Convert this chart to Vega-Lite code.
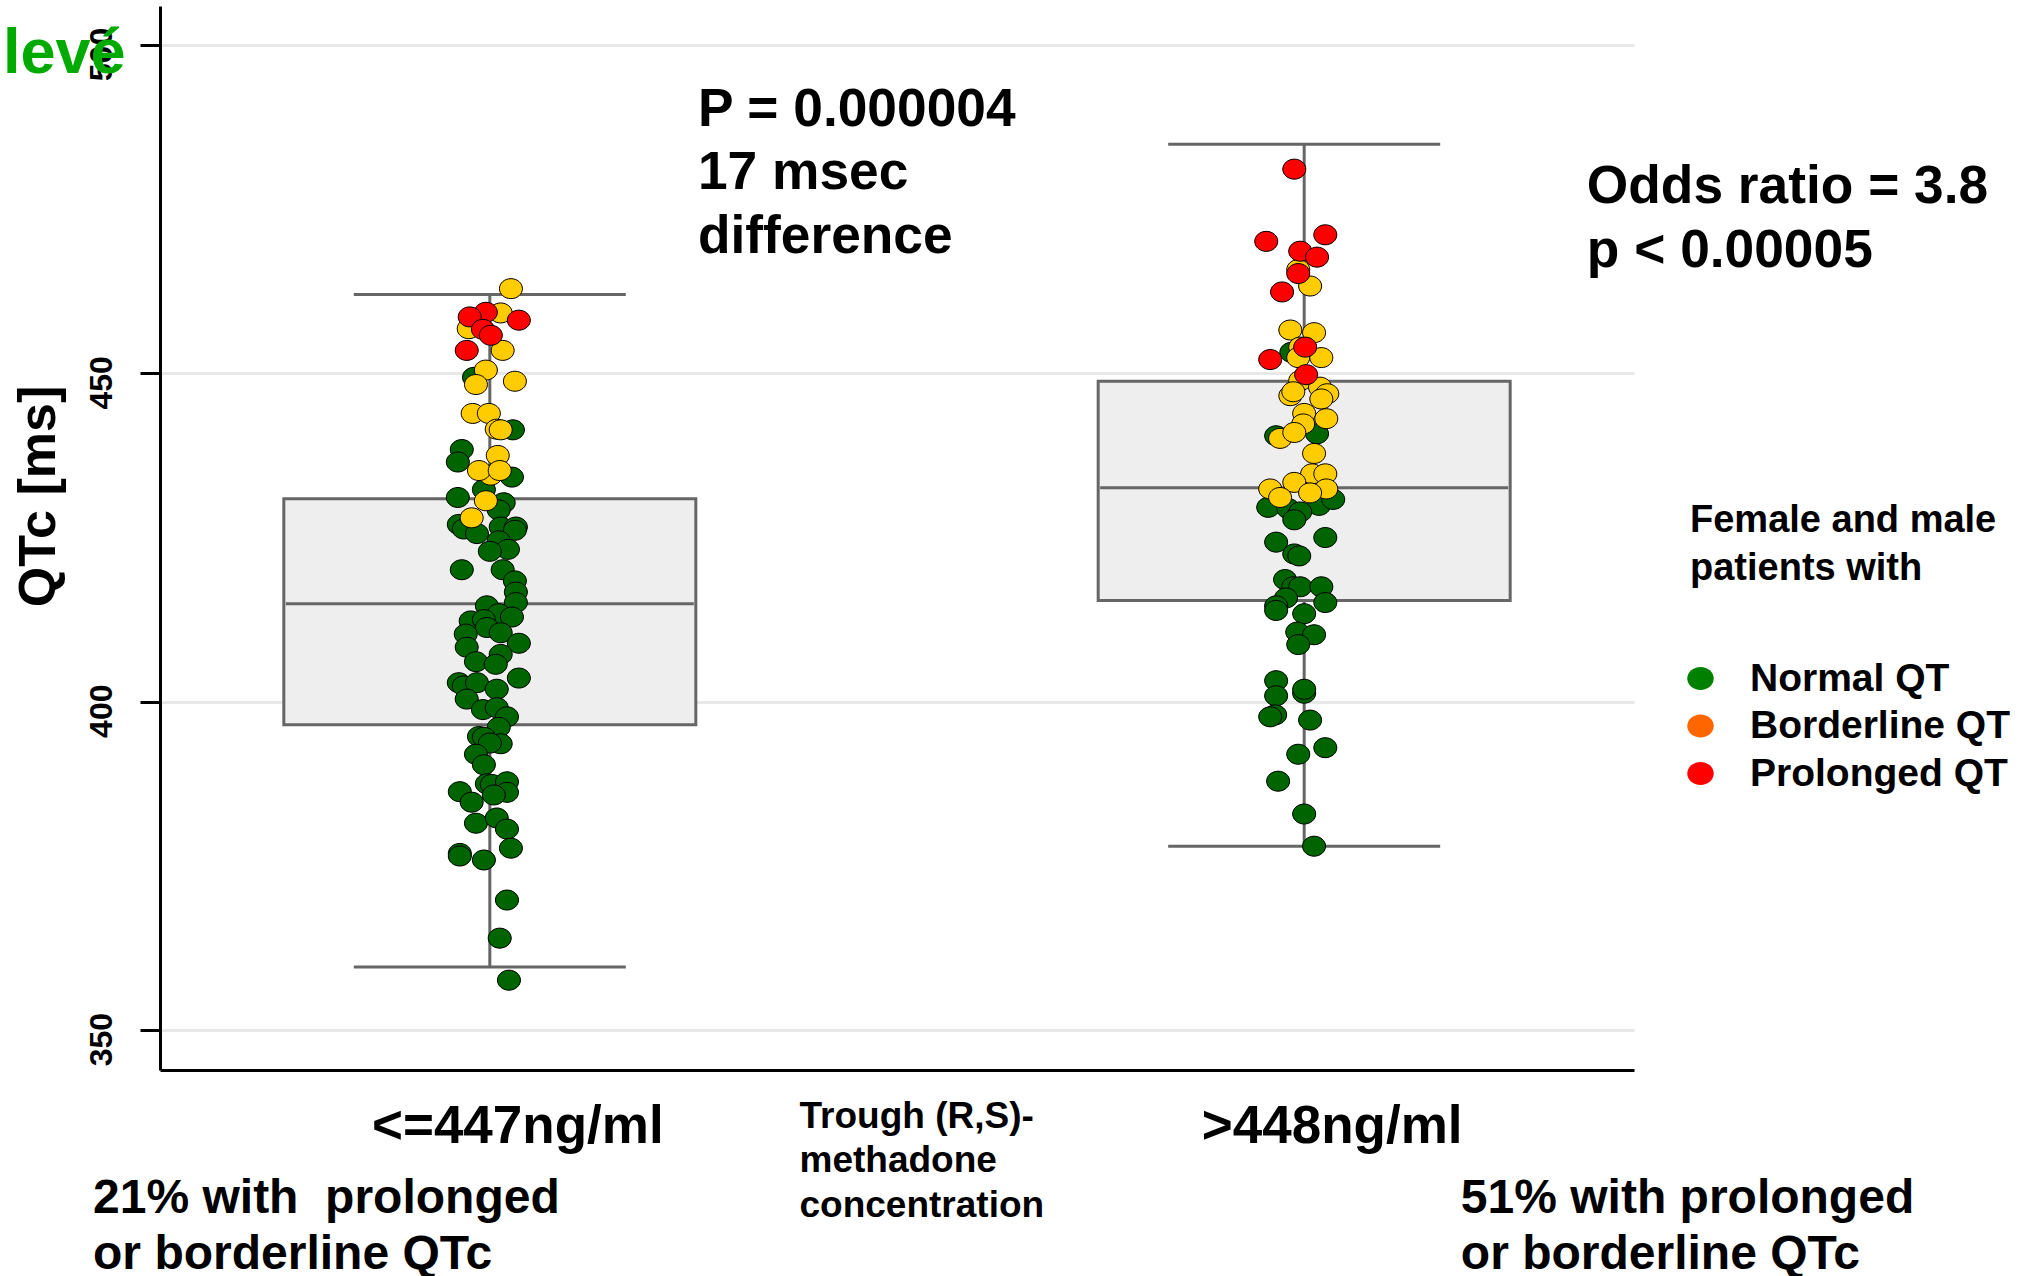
{
 "$schema": "https://vega.github.io/schema/vega-lite/v6.json",
 "width": 1474,
 "height": 1064,
 "autosize": "none",
 "padding": {"left": 160, "top": 6, "right": 386, "bottom": 206},
 "background": "white",
 "config": {"view": {"stroke": null}, "font": "Liberation Sans"},
 "datasets": {
  "box": [
   {"group": "<=447ng/ml", "lo": 359.6, "q1": 396.5, "med": 414.9, "q3": 430.9, "hi": 462.0},
   {"group": ">448ng/ml", "lo": 378.0, "q1": 415.4, "med": 432.6, "q3": 448.8, "hi": 484.9}
  ],
  "pts": [
   {"group": "<=447ng/ml", "qtc": 449.4, "jitter": -0.48, "status": "Normal QT"},
   {"group": "<=447ng/ml", "qtc": 441.4, "jitter": 0.70, "status": "Normal QT"},
   {"group": "<=447ng/ml", "qtc": 438.4, "jitter": -0.85, "status": "Normal QT"},
   {"group": "<=447ng/ml", "qtc": 436.5, "jitter": -0.97, "status": "Normal QT"},
   {"group": "<=447ng/ml", "qtc": 434.2, "jitter": 0.67, "status": "Normal QT"},
   {"group": "<=447ng/ml", "qtc": 432.3, "jitter": -0.18, "status": "Normal QT"},
   {"group": "<=447ng/ml", "qtc": 431.1, "jitter": -0.97, "status": "Normal QT"},
   {"group": "<=447ng/ml", "qtc": 430.3, "jitter": 0.42, "status": "Normal QT"},
   {"group": "<=447ng/ml", "qtc": 429.2, "jitter": 0.27, "status": "Normal QT"},
   {"group": "<=447ng/ml", "qtc": 427.0, "jitter": -0.94, "status": "Normal QT"},
   {"group": "<=447ng/ml", "qtc": 426.3, "jitter": -0.79, "status": "Normal QT"},
   {"group": "<=447ng/ml", "qtc": 425.6, "jitter": -0.39, "status": "Normal QT"},
   {"group": "<=447ng/ml", "qtc": 426.6, "jitter": 0.33, "status": "Normal QT"},
   {"group": "<=447ng/ml", "qtc": 426.6, "jitter": 0.79, "status": "Normal QT"},
   {"group": "<=447ng/ml", "qtc": 426.1, "jitter": 0.76, "status": "Normal QT"},
   {"group": "<=447ng/ml", "qtc": 424.5, "jitter": 0.27, "status": "Normal QT"},
   {"group": "<=447ng/ml", "qtc": 423.2, "jitter": 0.55, "status": "Normal QT"},
   {"group": "<=447ng/ml", "qtc": 422.9, "jitter": 0.0, "status": "Normal QT"},
   {"group": "<=447ng/ml", "qtc": 420.1, "jitter": -0.85, "status": "Normal QT"},
   {"group": "<=447ng/ml", "qtc": 420.1, "jitter": 0.39, "status": "Normal QT"},
   {"group": "<=447ng/ml", "qtc": 418.4, "jitter": 0.76, "status": "Normal QT"},
   {"group": "<=447ng/ml", "qtc": 416.7, "jitter": 0.79, "status": "Normal QT"},
   {"group": "<=447ng/ml", "qtc": 415.1, "jitter": 0.79, "status": "Normal QT"},
   {"group": "<=447ng/ml", "qtc": 414.6, "jitter": -0.09, "status": "Normal QT"},
   {"group": "<=447ng/ml", "qtc": 413.4, "jitter": 0.27, "status": "Normal QT"},
   {"group": "<=447ng/ml", "qtc": 412.9, "jitter": 0.67, "status": "Normal QT"},
   {"group": "<=447ng/ml", "qtc": 412.3, "jitter": -0.58, "status": "Normal QT"},
   {"group": "<=447ng/ml", "qtc": 412.5, "jitter": -0.18, "status": "Normal QT"},
   {"group": "<=447ng/ml", "qtc": 411.3, "jitter": -0.09, "status": "Normal QT"},
   {"group": "<=447ng/ml", "qtc": 410.3, "jitter": -0.73, "status": "Normal QT"},
   {"group": "<=447ng/ml", "qtc": 410.5, "jitter": 0.33, "status": "Normal QT"},
   {"group": "<=447ng/ml", "qtc": 408.9, "jitter": 0.88, "status": "Normal QT"},
   {"group": "<=447ng/ml", "qtc": 408.3, "jitter": -0.70, "status": "Normal QT"},
   {"group": "<=447ng/ml", "qtc": 407.2, "jitter": 0.33, "status": "Normal QT"},
   {"group": "<=447ng/ml", "qtc": 406.1, "jitter": -0.42, "status": "Normal QT"},
   {"group": "<=447ng/ml", "qtc": 405.7, "jitter": 0.18, "status": "Normal QT"},
   {"group": "<=447ng/ml", "qtc": 403.6, "jitter": 0.88, "status": "Normal QT"},
   {"group": "<=447ng/ml", "qtc": 402.9, "jitter": -0.94, "status": "Normal QT"},
   {"group": "<=447ng/ml", "qtc": 402.4, "jitter": -0.79, "status": "Normal QT"},
   {"group": "<=447ng/ml", "qtc": 402.9, "jitter": -0.39, "status": "Normal QT"},
   {"group": "<=447ng/ml", "qtc": 401.9, "jitter": 0.21, "status": "Normal QT"},
   {"group": "<=447ng/ml", "qtc": 400.4, "jitter": -0.70, "status": "Normal QT"},
   {"group": "<=447ng/ml", "qtc": 398.8, "jitter": -0.21, "status": "Normal QT"},
   {"group": "<=447ng/ml", "qtc": 399.1, "jitter": 0.21, "status": "Normal QT"},
   {"group": "<=447ng/ml", "qtc": 397.7, "jitter": 0.52, "status": "Normal QT"},
   {"group": "<=447ng/ml", "qtc": 396.1, "jitter": 0.27, "status": "Normal QT"},
   {"group": "<=447ng/ml", "qtc": 394.7, "jitter": -0.33, "status": "Normal QT"},
   {"group": "<=447ng/ml", "qtc": 394.6, "jitter": -0.18, "status": "Normal QT"},
   {"group": "<=447ng/ml", "qtc": 393.6, "jitter": 0.33, "status": "Normal QT"},
   {"group": "<=447ng/ml", "qtc": 393.7, "jitter": 0.0, "status": "Normal QT"},
   {"group": "<=447ng/ml", "qtc": 392.0, "jitter": -0.42, "status": "Normal QT"},
   {"group": "<=447ng/ml", "qtc": 390.4, "jitter": -0.18, "status": "Normal QT"},
   {"group": "<=447ng/ml", "qtc": 387.5, "jitter": -0.09, "status": "Normal QT"},
   {"group": "<=447ng/ml", "qtc": 387.4, "jitter": 0.06, "status": "Normal QT"},
   {"group": "<=447ng/ml", "qtc": 387.8, "jitter": 0.52, "status": "Normal QT"},
   {"group": "<=447ng/ml", "qtc": 386.2, "jitter": 0.52, "status": "Normal QT"},
   {"group": "<=447ng/ml", "qtc": 386.3, "jitter": -0.91, "status": "Normal QT"},
   {"group": "<=447ng/ml", "qtc": 384.7, "jitter": -0.55, "status": "Normal QT"},
   {"group": "<=447ng/ml", "qtc": 385.8, "jitter": 0.12, "status": "Normal QT"},
   {"group": "<=447ng/ml", "qtc": 381.5, "jitter": -0.42, "status": "Normal QT"},
   {"group": "<=447ng/ml", "qtc": 382.3, "jitter": 0.21, "status": "Normal QT"},
   {"group": "<=447ng/ml", "qtc": 380.6, "jitter": 0.52, "status": "Normal QT"},
   {"group": "<=447ng/ml", "qtc": 377.7, "jitter": 0.64, "status": "Normal QT"},
   {"group": "<=447ng/ml", "qtc": 376.9, "jitter": -0.91, "status": "Normal QT"},
   {"group": "<=447ng/ml", "qtc": 376.5, "jitter": -0.91, "status": "Normal QT"},
   {"group": "<=447ng/ml", "qtc": 375.9, "jitter": -0.18, "status": "Normal QT"},
   {"group": "<=447ng/ml", "qtc": 369.8, "jitter": 0.52, "status": "Normal QT"},
   {"group": "<=447ng/ml", "qtc": 364.0, "jitter": 0.30, "status": "Normal QT"},
   {"group": "<=447ng/ml", "qtc": 357.6, "jitter": 0.58, "status": "Normal QT"},
   {"group": ">448ng/ml", "qtc": 453.2, "jitter": -0.39, "status": "Normal QT"},
   {"group": ">448ng/ml", "qtc": 440.8, "jitter": 0.39, "status": "Normal QT"},
   {"group": ">448ng/ml", "qtc": 440.5, "jitter": -0.85, "status": "Normal QT"},
   {"group": ">448ng/ml", "qtc": 429.6, "jitter": -1.09, "status": "Normal QT"},
   {"group": ">448ng/ml", "qtc": 429.4, "jitter": -0.48, "status": "Normal QT"},
   {"group": ">448ng/ml", "qtc": 429.9, "jitter": 0.45, "status": "Normal QT"},
   {"group": ">448ng/ml", "qtc": 430.8, "jitter": 0.88, "status": "Normal QT"},
   {"group": ">448ng/ml", "qtc": 428.9, "jitter": -0.12, "status": "Normal QT"},
   {"group": ">448ng/ml", "qtc": 427.7, "jitter": -0.30, "status": "Normal QT"},
   {"group": ">448ng/ml", "qtc": 425.0, "jitter": 0.64, "status": "Normal QT"},
   {"group": ">448ng/ml", "qtc": 424.3, "jitter": -0.85, "status": "Normal QT"},
   {"group": ">448ng/ml", "qtc": 422.5, "jitter": -0.30, "status": "Normal QT"},
   {"group": ">448ng/ml", "qtc": 422.2, "jitter": -0.15, "status": "Normal QT"},
   {"group": ">448ng/ml", "qtc": 418.6, "jitter": -0.58, "status": "Normal QT"},
   {"group": ">448ng/ml", "qtc": 417.5, "jitter": -0.33, "status": "Normal QT"},
   {"group": ">448ng/ml", "qtc": 417.5, "jitter": -0.12, "status": "Normal QT"},
   {"group": ">448ng/ml", "qtc": 417.5, "jitter": 0.52, "status": "Normal QT"},
   {"group": ">448ng/ml", "qtc": 415.8, "jitter": -0.55, "status": "Normal QT"},
   {"group": ">448ng/ml", "qtc": 415.1, "jitter": 0.64, "status": "Normal QT"},
   {"group": ">448ng/ml", "qtc": 414.6, "jitter": -0.85, "status": "Normal QT"},
   {"group": ">448ng/ml", "qtc": 413.9, "jitter": -0.85, "status": "Normal QT"},
   {"group": ">448ng/ml", "qtc": 413.4, "jitter": 0.0, "status": "Normal QT"},
   {"group": ">448ng/ml", "qtc": 410.6, "jitter": -0.21, "status": "Normal QT"},
   {"group": ">448ng/ml", "qtc": 410.2, "jitter": 0.30, "status": "Normal QT"},
   {"group": ">448ng/ml", "qtc": 408.7, "jitter": -0.18, "status": "Normal QT"},
   {"group": ">448ng/ml", "qtc": 403.2, "jitter": -0.85, "status": "Normal QT"},
   {"group": ">448ng/ml", "qtc": 400.9, "jitter": -0.85, "status": "Normal QT"},
   {"group": ">448ng/ml", "qtc": 401.3, "jitter": 0.0, "status": "Normal QT"},
   {"group": ">448ng/ml", "qtc": 401.9, "jitter": 0.0, "status": "Normal QT"},
   {"group": ">448ng/ml", "qtc": 398.0, "jitter": -0.88, "status": "Normal QT"},
   {"group": ">448ng/ml", "qtc": 397.7, "jitter": -1.03, "status": "Normal QT"},
   {"group": ">448ng/ml", "qtc": 397.2, "jitter": 0.18, "status": "Normal QT"},
   {"group": ">448ng/ml", "qtc": 393.0, "jitter": 0.64, "status": "Normal QT"},
   {"group": ">448ng/ml", "qtc": 392.0, "jitter": -0.18, "status": "Normal QT"},
   {"group": ">448ng/ml", "qtc": 387.9, "jitter": -0.79, "status": "Normal QT"},
   {"group": ">448ng/ml", "qtc": 382.9, "jitter": 0.0, "status": "Normal QT"},
   {"group": ">448ng/ml", "qtc": 378.0, "jitter": 0.30, "status": "Normal QT"},
   {"group": "<=447ng/ml", "qtc": 462.9, "jitter": 0.64, "status": "Borderline QT"},
   {"group": "<=447ng/ml", "qtc": 459.2, "jitter": 0.33, "status": "Borderline QT"},
   {"group": "<=447ng/ml", "qtc": 456.8, "jitter": -0.64, "status": "Borderline QT"},
   {"group": "<=447ng/ml", "qtc": 453.5, "jitter": 0.39, "status": "Borderline QT"},
   {"group": "<=447ng/ml", "qtc": 450.5, "jitter": -0.12, "status": "Borderline QT"},
   {"group": "<=447ng/ml", "qtc": 448.3, "jitter": -0.42, "status": "Borderline QT"},
   {"group": "<=447ng/ml", "qtc": 448.8, "jitter": 0.76, "status": "Borderline QT"},
   {"group": "<=447ng/ml", "qtc": 443.9, "jitter": -0.52, "status": "Borderline QT"},
   {"group": "<=447ng/ml", "qtc": 443.9, "jitter": -0.03, "status": "Borderline QT"},
   {"group": "<=447ng/ml", "qtc": 441.5, "jitter": 0.21, "status": "Borderline QT"},
   {"group": "<=447ng/ml", "qtc": 441.4, "jitter": 0.33, "status": "Borderline QT"},
   {"group": "<=447ng/ml", "qtc": 437.5, "jitter": 0.24, "status": "Borderline QT"},
   {"group": "<=447ng/ml", "qtc": 434.5, "jitter": 0.03, "status": "Borderline QT"},
   {"group": "<=447ng/ml", "qtc": 435.2, "jitter": -0.33, "status": "Borderline QT"},
   {"group": "<=447ng/ml", "qtc": 435.2, "jitter": 0.30, "status": "Borderline QT"},
   {"group": "<=447ng/ml", "qtc": 430.6, "jitter": -0.12, "status": "Borderline QT"},
   {"group": "<=447ng/ml", "qtc": 428.0, "jitter": -0.55, "status": "Borderline QT"},
   {"group": ">448ng/ml", "qtc": 465.8, "jitter": -0.18, "status": "Borderline QT"},
   {"group": ">448ng/ml", "qtc": 463.3, "jitter": 0.18, "status": "Borderline QT"},
   {"group": ">448ng/ml", "qtc": 456.6, "jitter": -0.42, "status": "Borderline QT"},
   {"group": ">448ng/ml", "qtc": 456.2, "jitter": 0.30, "status": "Borderline QT"},
   {"group": ">448ng/ml", "qtc": 454.0, "jitter": -0.12, "status": "Borderline QT"},
   {"group": ">448ng/ml", "qtc": 452.4, "jitter": -0.18, "status": "Borderline QT"},
   {"group": ">448ng/ml", "qtc": 452.4, "jitter": 0.52, "status": "Borderline QT"},
   {"group": ">448ng/ml", "qtc": 448.9, "jitter": -0.12, "status": "Borderline QT"},
   {"group": ">448ng/ml", "qtc": 447.9, "jitter": 0.48, "status": "Borderline QT"},
   {"group": ">448ng/ml", "qtc": 446.6, "jitter": -0.42, "status": "Borderline QT"},
   {"group": ">448ng/ml", "qtc": 447.2, "jitter": -0.33, "status": "Borderline QT"},
   {"group": ">448ng/ml", "qtc": 446.9, "jitter": 0.70, "status": "Borderline QT"},
   {"group": ">448ng/ml", "qtc": 446.1, "jitter": 0.52, "status": "Borderline QT"},
   {"group": ">448ng/ml", "qtc": 443.9, "jitter": 0.0, "status": "Borderline QT"},
   {"group": ">448ng/ml", "qtc": 443.1, "jitter": 0.67, "status": "Borderline QT"},
   {"group": ">448ng/ml", "qtc": 442.3, "jitter": -0.03, "status": "Borderline QT"},
   {"group": ">448ng/ml", "qtc": 440.1, "jitter": -0.73, "status": "Borderline QT"},
   {"group": ">448ng/ml", "qtc": 441.0, "jitter": -0.30, "status": "Borderline QT"},
   {"group": ">448ng/ml", "qtc": 437.8, "jitter": 0.30, "status": "Borderline QT"},
   {"group": ">448ng/ml", "qtc": 434.7, "jitter": 0.24, "status": "Borderline QT"},
   {"group": ">448ng/ml", "qtc": 434.7, "jitter": 0.64, "status": "Borderline QT"},
   {"group": ">448ng/ml", "qtc": 433.4, "jitter": -0.30, "status": "Borderline QT"},
   {"group": ">448ng/ml", "qtc": 432.4, "jitter": -1.03, "status": "Borderline QT"},
   {"group": ">448ng/ml", "qtc": 432.4, "jitter": 0.67, "status": "Borderline QT"},
   {"group": ">448ng/ml", "qtc": 431.8, "jitter": 0.18, "status": "Borderline QT"},
   {"group": ">448ng/ml", "qtc": 431.1, "jitter": -0.73, "status": "Borderline QT"},
   {"group": "<=447ng/ml", "qtc": 459.3, "jitter": -0.12, "status": "Prolonged QT"},
   {"group": "<=447ng/ml", "qtc": 458.6, "jitter": -0.61, "status": "Prolonged QT"},
   {"group": "<=447ng/ml", "qtc": 456.7, "jitter": -0.21, "status": "Prolonged QT"},
   {"group": "<=447ng/ml", "qtc": 455.8, "jitter": 0.03, "status": "Prolonged QT"},
   {"group": "<=447ng/ml", "qtc": 458.1, "jitter": 0.88, "status": "Prolonged QT"},
   {"group": "<=447ng/ml", "qtc": 453.5, "jitter": -0.70, "status": "Prolonged QT"},
   {"group": ">448ng/ml", "qtc": 481.1, "jitter": -0.30, "status": "Prolonged QT"},
   {"group": ">448ng/ml", "qtc": 470.1, "jitter": -1.15, "status": "Prolonged QT"},
   {"group": ">448ng/ml", "qtc": 471.1, "jitter": 0.64, "status": "Prolonged QT"},
   {"group": ">448ng/ml", "qtc": 468.6, "jitter": -0.12, "status": "Prolonged QT"},
   {"group": ">448ng/ml", "qtc": 467.7, "jitter": 0.39, "status": "Prolonged QT"},
   {"group": ">448ng/ml", "qtc": 465.2, "jitter": -0.18, "status": "Prolonged QT"},
   {"group": ">448ng/ml", "qtc": 462.4, "jitter": -0.67, "status": "Prolonged QT"},
   {"group": ">448ng/ml", "qtc": 454.0, "jitter": 0.03, "status": "Prolonged QT"},
   {"group": ">448ng/ml", "qtc": 452.1, "jitter": -1.03, "status": "Prolonged QT"},
   {"group": ">448ng/ml", "qtc": 449.8, "jitter": 0.06, "status": "Prolonged QT"}
  ]
 },
 "encoding": {
  "x": {
   "field": "group", "type": "nominal",
   "scale": {"domain": ["<=447ng/ml", ">448ng/ml"], "paddingInner": 0.19, "paddingOuter": 0},
   "axis": {
    "title": ["Trough (R,S)-", "methadone", "concentration"],
    "titleFontSize": 37, "titleFontWeight": "bold", "titleColor": "black",
    "titleAlign": "left", "titleAnchor": "start", "titleX": 639, "titleY": 28,
    "titleBaseline": "top", "titleLineHeight": 44.5,
    "labelAngle": 0, "labelFontSize": 53, "labelFontWeight": "bold", "labelColor": "black",
    "labelOffset": 28, "labelPadding": 30, "labelLimit": 0,
    "ticks": false, "tickSize": 0, "domainColor": "black", "domainWidth": 3, "grid": false
   }
  }
 },
 "layer": [
  {
   "data": {"name": "box"},
   "mark": {"type": "rule", "color": "#666666", "strokeWidth": 3},
   "encoding": {
    "y": {
     "field": "lo", "type": "quantitative",
     "scale": {"domain": [343.92, 505.94], "nice": false, "zero": false},
     "axis": {
      "values": [350, 400, 450, 500], "grid": true, "gridColor": "#e8e8e8", "gridWidth": 3,
      "title": "QTc [ms]", "titleAngle": 270, "titleFontSize": 52, "titleFontWeight": "bold", "titleColor": "black",
      "titleX": -122, "titleY": 490, "titleAlign": "center", "titleBaseline": "middle",
      "labelAngle": 270, "labelAlign": "center", "labelBaseline": "bottom",
      "labelFontSize": 32, "labelFontWeight": "bold", "labelColor": "black",
      "labelPadding": 22, "labelOffset": 9,
      "tickSize": 20, "tickWidth": 3, "tickColor": "black",
      "domainColor": "black", "domainWidth": 3
     }
    },
    "y2": {"field": "hi"}
   }
  },
  {
   "data": {"name": "box"},
   "mark": {"type": "bar", "width": 412, "fill": "#eeeeee", "stroke": "#666666", "strokeWidth": 3},
   "encoding": {
    "y": {"field": "q1", "type": "quantitative", "scale": {"domain": [343.92, 505.94], "nice": false, "zero": false}},
    "y2": {"field": "q3"}
   }
  },
  {
   "data": {"name": "box"},
   "mark": {"type": "tick", "size": 272, "thickness": 3, "color": "#666666", "opacity": 1},
   "encoding": {
    "y": {"field": "lo", "type": "quantitative", "scale": {"domain": [343.92, 505.94], "nice": false, "zero": false}}
   }
  },
  {
   "data": {"name": "box"},
   "mark": {"type": "tick", "size": 272, "thickness": 3, "color": "#666666", "opacity": 1},
   "encoding": {
    "y": {"field": "hi", "type": "quantitative", "scale": {"domain": [343.92, 505.94], "nice": false, "zero": false}}
   }
  },
  {
   "data": {"name": "box"},
   "mark": {"type": "tick", "size": 408, "thickness": 3, "color": "#666666", "opacity": 1},
   "encoding": {
    "y": {"field": "med", "type": "quantitative", "scale": {"domain": [343.92, 505.94], "nice": false, "zero": false}}
   }
  },
  {
   "data": {"name": "pts"},
   "mark": {"type": "point", "shape": "M-1.15,0A1.15,1,0,1,0,1.15,0A1.15,1,0,1,0,-1.15,0Z", "size": 400, "filled": true, "opacity": 1, "strokeWidth": 0},
   "encoding": {
    "xOffset": {"field": "jitter", "type": "quantitative", "scale": {"domain": [-10, 10]}},
    "y": {"field": "qtc", "type": "quantitative", "scale": {"domain": [343.92, 505.94], "nice": false, "zero": false}},
    "color": {
     "field": "status", "type": "nominal",
     "scale": {"domain": ["Normal QT", "Borderline QT", "Prolonged QT"], "range": ["#008000", "#ff6600", "#ff0000"]},
     "legend": {
      "orient": "none", "legendX": 1530, "legendY": 496, "padding": 0,
      "title": ["Female and male", "patients with"],
      "titleFontSize": 38, "titleFontWeight": "bold", "titleColor": "black", "titleLineHeight": 48,
      "titlePadding": 71, "titleLimit": 0,
      "labelFontSize": 39, "labelFontWeight": "bold", "labelColor": "black", "labelOffset": 30, "labelLimit": 0,
      "symbolType": "M-1.15,0A1.15,1,0,1,0,1.15,0A1.15,1,0,1,0,-1.15,0Z", "symbolSize": 529,
      "symbolOffset": -9,
      "symbolStrokeWidth": 0, "symbolOpacity": 1, "rowPadding": 7.5
     }
    }
   }
  },
  {
   "data": {"name": "pts"},
   "mark": {"type": "point", "shape": "M-1.15,0A1.15,1,0,1,0,1.15,0A1.15,1,0,1,0,-1.15,0Z", "size": 400, "filled": true, "opacity": 1, "stroke": "black", "strokeWidth": 1},
   "encoding": {
    "xOffset": {"field": "jitter", "type": "quantitative", "scale": {"domain": [-10, 10]}},
    "y": {"field": "qtc", "type": "quantitative", "scale": {"domain": [343.92, 505.94], "nice": false, "zero": false}},
    "fill": {
     "field": "status", "type": "nominal",
     "scale": {"domain": ["Normal QT", "Borderline QT", "Prolonged QT"], "range": ["#006400", "#ffcc00", "#ff0000"]},
     "legend": null
    }
   }
  },
  {
   "data": {"values": [
    {"group": "<=447ng/ml", "jitter": 6.31, "qtc": 487.67, "note": "P = 0.000004\n17 msec\ndifference"},
    {"group": ">448ng/ml", "jitter": 8.57, "qtc": 475.9, "note": "Odds ratio = 3.8\np < 0.00005"}
   ]},
   "mark": {"type": "text", "align": "left", "baseline": "alphabetic", "fontSize": 53.3, "fontWeight": "bold", "lineHeight": 63.5, "lineBreak": "\n", "color": "black"},
   "encoding": {
    "xOffset": {"field": "jitter", "type": "quantitative", "scale": {"domain": [-10, 10]}},
    "y": {"field": "qtc", "type": "quantitative", "scale": {"domain": [343.92, 505.94], "nice": false, "zero": false}},
    "text": {"field": "note", "type": "nominal"}
   }
  },
  {
   "data": {"values": [
    {"group": "<=447ng/ml", "jitter": -12.03, "qtc": 322.17, "note": "21% with\u00a0 prolonged\nor borderline QTc"},
    {"group": ">448ng/ml", "jitter": 4.75, "qtc": 322.17, "note": "51% with prolonged\nor borderline QTc"}
   ]},
   "mark": {"type": "text", "align": "left", "baseline": "alphabetic", "fontSize": 48, "fontWeight": "bold", "lineHeight": 56.5, "lineBreak": "\n", "color": "black"},
   "encoding": {
    "xOffset": {"field": "jitter", "type": "quantitative", "scale": {"domain": [-10, 10]}},
    "y": {"field": "qtc", "type": "quantitative", "scale": {"domain": [343.92, 505.94], "nice": false, "zero": false}},
    "text": {"field": "note", "type": "nominal"}
   }
  },
  {
   "data": {"values": [
    {"group": "<=447ng/ml", "jitter": -14.76, "qtc": 495.78, "note": "levé"}
   ]},
   "mark": {"type": "text", "align": "left", "baseline": "alphabetic", "fontSize": 63, "fontWeight": "bold", "color": "#00aa00"},
   "encoding": {
    "xOffset": {"field": "jitter", "type": "quantitative", "scale": {"domain": [-10, 10]}},
    "y": {"field": "qtc", "type": "quantitative", "scale": {"domain": [343.92, 505.94], "nice": false, "zero": false}},
    "text": {"field": "note", "type": "nominal"}
   }
  }
 ]
}
